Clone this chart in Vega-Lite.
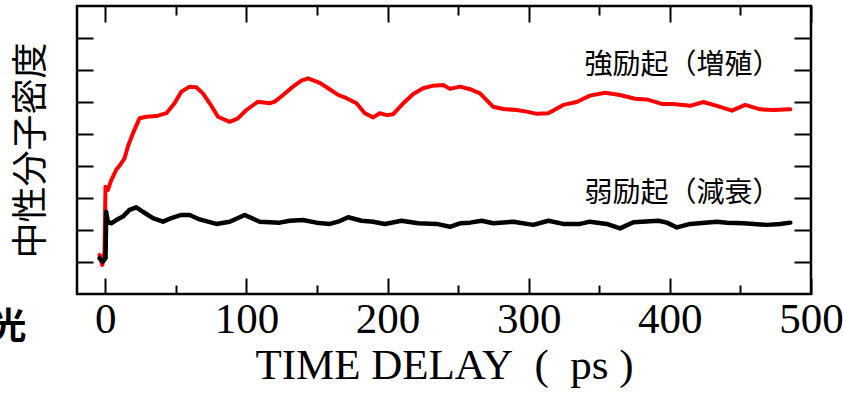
{
  "$schema": "https://vega.github.io/schema/vega-lite/v6.json",
  "width": 734,
  "height": 288,
  "autosize": {"type": "none"},
  "padding": {"left": 77, "top": 6, "right": 32, "bottom": 104},
  "background": "white",
  "config": {
    "view": {"stroke": "black", "strokeWidth": 2.5},
    "axis": {"grid": false, "domain": false, "tickColor": "black", "tickWidth": 2, "labelColor": "black", "titleColor": "black"}
  },
  "datasets": {
    "curves": [
      {"series": "strong", "t": -4.0, "v": 1.22},
      {"series": "strong", "t": -2.1, "v": 0.91},
      {"series": "strong", "t": -0.5, "v": 1.32},
      {"series": "strong", "t": 0.2, "v": 3.35},
      {"series": "strong", "t": 1.8, "v": 3.25},
      {"series": "strong", "t": 4.3, "v": 3.56},
      {"series": "strong", "t": 7.8, "v": 3.88},
      {"series": "strong", "t": 11.3, "v": 4.08},
      {"series": "strong", "t": 13.7, "v": 4.24},
      {"series": "strong", "t": 16.0, "v": 4.60},
      {"series": "strong", "t": 19.6, "v": 5.02},
      {"series": "strong", "t": 24.3, "v": 5.49},
      {"series": "strong", "t": 29.1, "v": 5.54},
      {"series": "strong", "t": 36.2, "v": 5.56},
      {"series": "strong", "t": 43.3, "v": 5.65},
      {"series": "strong", "t": 49.1, "v": 5.96},
      {"series": "strong", "t": 53.9, "v": 6.32},
      {"series": "strong", "t": 59.8, "v": 6.48},
      {"series": "strong", "t": 64.5, "v": 6.46},
      {"series": "strong", "t": 69.2, "v": 6.27},
      {"series": "strong", "t": 74.0, "v": 5.96},
      {"series": "strong", "t": 79.9, "v": 5.54},
      {"series": "strong", "t": 88.2, "v": 5.38},
      {"series": "strong", "t": 94.0, "v": 5.49},
      {"series": "strong", "t": 100.0, "v": 5.75},
      {"series": "strong", "t": 108.2, "v": 6.01},
      {"series": "strong", "t": 116.5, "v": 5.96},
      {"series": "strong", "t": 120.1, "v": 6.01},
      {"series": "strong", "t": 126.0, "v": 6.22},
      {"series": "strong", "t": 133.0, "v": 6.48},
      {"series": "strong", "t": 139.0, "v": 6.67},
      {"series": "strong", "t": 143.7, "v": 6.74},
      {"series": "strong", "t": 152.0, "v": 6.60},
      {"series": "strong", "t": 157.9, "v": 6.43},
      {"series": "strong", "t": 165.0, "v": 6.22},
      {"series": "strong", "t": 170.9, "v": 6.12},
      {"series": "strong", "t": 178.0, "v": 5.96},
      {"series": "strong", "t": 183.9, "v": 5.65},
      {"series": "strong", "t": 189.8, "v": 5.52},
      {"series": "strong", "t": 194.5, "v": 5.65},
      {"series": "strong", "t": 199.3, "v": 5.59},
      {"series": "strong", "t": 204.0, "v": 5.62},
      {"series": "strong", "t": 212.3, "v": 6.01},
      {"series": "strong", "t": 218.2, "v": 6.25},
      {"series": "strong", "t": 225.2, "v": 6.43},
      {"series": "strong", "t": 232.3, "v": 6.51},
      {"series": "strong", "t": 239.4, "v": 6.53},
      {"series": "strong", "t": 244.2, "v": 6.41},
      {"series": "strong", "t": 251.3, "v": 6.48},
      {"series": "strong", "t": 258.4, "v": 6.40},
      {"series": "strong", "t": 265.5, "v": 6.27},
      {"series": "strong", "t": 274.9, "v": 5.85},
      {"series": "strong", "t": 282.0, "v": 5.78},
      {"series": "strong", "t": 291.5, "v": 5.75},
      {"series": "strong", "t": 298.6, "v": 5.70},
      {"series": "strong", "t": 305.7, "v": 5.63},
      {"series": "strong", "t": 313.9, "v": 5.65},
      {"series": "strong", "t": 324.5, "v": 5.91},
      {"series": "strong", "t": 334.0, "v": 6.00},
      {"series": "strong", "t": 343.4, "v": 6.20},
      {"series": "strong", "t": 354.1, "v": 6.29},
      {"series": "strong", "t": 364.7, "v": 6.22},
      {"series": "strong", "t": 375.3, "v": 6.10},
      {"series": "strong", "t": 383.7, "v": 6.08},
      {"series": "strong", "t": 394.3, "v": 5.94},
      {"series": "strong", "t": 402.6, "v": 5.94},
      {"series": "strong", "t": 414.4, "v": 5.88},
      {"series": "strong", "t": 423.8, "v": 6.00},
      {"series": "strong", "t": 433.3, "v": 5.88},
      {"series": "strong", "t": 444.0, "v": 5.73},
      {"series": "strong", "t": 453.4, "v": 5.91},
      {"series": "strong", "t": 464.0, "v": 5.77},
      {"series": "strong", "t": 473.5, "v": 5.75},
      {"series": "strong", "t": 485.3, "v": 5.77},
      {"series": "weak", "t": -4.0, "v": 1.12},
      {"series": "weak", "t": -1.7, "v": 1.01},
      {"series": "weak", "t": 0.2, "v": 1.12},
      {"series": "weak", "t": 0.7, "v": 2.57},
      {"series": "weak", "t": 1.8, "v": 2.26},
      {"series": "weak", "t": 4.3, "v": 2.21},
      {"series": "weak", "t": 7.8, "v": 2.31},
      {"series": "weak", "t": 12.5, "v": 2.42},
      {"series": "weak", "t": 17.2, "v": 2.63},
      {"series": "weak", "t": 22.0, "v": 2.71},
      {"series": "weak", "t": 26.7, "v": 2.57},
      {"series": "weak", "t": 33.8, "v": 2.37},
      {"series": "weak", "t": 40.9, "v": 2.26},
      {"series": "weak", "t": 46.8, "v": 2.37},
      {"series": "weak", "t": 53.9, "v": 2.47},
      {"series": "weak", "t": 59.8, "v": 2.47},
      {"series": "weak", "t": 66.9, "v": 2.33},
      {"series": "weak", "t": 78.7, "v": 2.19},
      {"series": "weak", "t": 88.2, "v": 2.26},
      {"series": "weak", "t": 98.8, "v": 2.47},
      {"series": "weak", "t": 109.4, "v": 2.26},
      {"series": "weak", "t": 123.6, "v": 2.23},
      {"series": "weak", "t": 130.7, "v": 2.29},
      {"series": "weak", "t": 140.1, "v": 2.31},
      {"series": "weak", "t": 149.6, "v": 2.23},
      {"series": "weak", "t": 159.1, "v": 2.19},
      {"series": "weak", "t": 165.0, "v": 2.26},
      {"series": "weak", "t": 172.1, "v": 2.40},
      {"series": "weak", "t": 181.6, "v": 2.29},
      {"series": "weak", "t": 189.8, "v": 2.26},
      {"series": "weak", "t": 198.1, "v": 2.19},
      {"series": "weak", "t": 209.9, "v": 2.29},
      {"series": "weak", "t": 221.7, "v": 2.21},
      {"series": "weak", "t": 234.8, "v": 2.19},
      {"series": "weak", "t": 244.2, "v": 2.10},
      {"series": "weak", "t": 251.3, "v": 2.21},
      {"series": "weak", "t": 258.4, "v": 2.23},
      {"series": "weak", "t": 266.7, "v": 2.29},
      {"series": "weak", "t": 274.9, "v": 2.21},
      {"series": "weak", "t": 289.1, "v": 2.26},
      {"series": "weak", "t": 303.3, "v": 2.16},
      {"series": "weak", "t": 313.9, "v": 2.29},
      {"series": "weak", "t": 324.5, "v": 2.19},
      {"series": "weak", "t": 336.4, "v": 2.19},
      {"series": "weak", "t": 343.4, "v": 2.26},
      {"series": "weak", "t": 355.3, "v": 2.19},
      {"series": "weak", "t": 364.7, "v": 2.05},
      {"series": "weak", "t": 374.2, "v": 2.24},
      {"series": "weak", "t": 391.9, "v": 2.29},
      {"series": "weak", "t": 397.9, "v": 2.23},
      {"series": "weak", "t": 405.0, "v": 2.08},
      {"series": "weak", "t": 414.4, "v": 2.19},
      {"series": "weak", "t": 433.3, "v": 2.26},
      {"series": "weak", "t": 440.4, "v": 2.23},
      {"series": "weak", "t": 452.2, "v": 2.21},
      {"series": "weak", "t": 468.8, "v": 2.16},
      {"series": "weak", "t": 478.2, "v": 2.19},
      {"series": "weak", "t": 485.3, "v": 2.23}
    ],
    "labels": [
      {"t": 409, "v": 7.12, "label": "強励起（増殖）"},
      {"t": 409, "v": 3.12, "label": "弱励起（減衰）"}
    ],
    "stray": [
      {"t": -68.5, "v": -1.06, "label": "光"}
    ]
  },
  "resolve": {"axis": {"x": "independent", "y": "independent"}},
  "layer": [
    {
      "data": {"name": "curves"},
      "transform": [{"filter": "datum.series === 'strong'"}],
      "mark": {"type": "line", "color": "#ff0000", "strokeWidth": 4, "strokeJoin": "round", "strokeCap": "round"},
      "encoding": {
        "x": {"field": "t", "type": "quantitative", "scale": {"domain": [-20, 500], "nice": false, "zero": false},
          "axis": {"orient": "bottom", "values": [0, 100, 200, 300, 400, 500], "tickSize": -16, "labelFont": "Liberation Serif", "labelFontSize": 43, "labelPadding": 20, "labelFlush": false,
            "title": "TIME DELAY\u2002(\u2002ps )", "titleFont": "Liberation Serif", "titleFontSize": 43, "titleFontWeight": "normal", "titlePadding": 3}},
        "y": {"field": "v", "type": "quantitative", "scale": {"domain": [0, 9], "nice": false, "zero": false},
          "axis": {"orient": "left", "values": [1, 2, 3, 4, 5, 6, 7, 8], "tickSize": -16, "labels": false,
            "title": "中性分子密度", "titleFont": "Noto Sans CJK JP", "titleFontSize": 36, "titleFontWeight": "normal", "titlePadding": 26}}
      }
    },
    {
      "data": {"name": "curves"},
      "transform": [{"filter": "datum.series === 'weak'"}],
      "mark": {"type": "line", "color": "#000000", "strokeWidth": 4.5, "strokeJoin": "round", "strokeCap": "round"},
      "encoding": {
        "x": {"field": "t", "type": "quantitative", "scale": {"domain": [-20, 500], "nice": false, "zero": false},
          "axis": {"orient": "bottom", "values": [50, 150, 250, 350, 450], "tickSize": -9, "labels": false, "title": null}},
        "y": {"field": "v", "type": "quantitative", "scale": {"domain": [0, 9], "nice": false, "zero": false},
          "axis": {"orient": "right", "values": [1, 2, 3, 4, 5, 6, 7, 8], "tickSize": -17, "labels": false, "title": null}}
      }
    },
    {
      "data": {"name": "labels"},
      "mark": {"type": "text", "font": "Noto Sans CJK JP", "fontSize": 28, "color": "black", "align": "center", "baseline": "middle"},
      "encoding": {
        "x": {"field": "t", "type": "quantitative", "scale": {"domain": [-20, 500], "nice": false, "zero": false},
          "axis": {"orient": "top", "values": [0, 100, 200, 300, 400, 500], "tickSize": -16, "labels": false, "title": null}},
        "y": {"field": "v", "type": "quantitative", "scale": {"domain": [0, 9], "nice": false, "zero": false}, "axis": null},
        "text": {"field": "label"}
      }
    },
    {
      "data": {"name": "stray"},
      "mark": {"type": "text", "font": "Noto Sans CJK JP", "fontSize": 36, "fontWeight": "bold", "color": "black", "align": "center", "baseline": "middle"},
      "encoding": {
        "x": {"field": "t", "type": "quantitative", "scale": {"domain": [-20, 500], "nice": false, "zero": false},
          "axis": {"orient": "top", "values": [50, 150, 250, 350, 450], "tickSize": -9, "labels": false, "title": null}},
        "y": {"field": "v", "type": "quantitative", "scale": {"domain": [0, 9], "nice": false, "zero": false}, "axis": null},
        "text": {"field": "label"}
      }
    }
  ]
}
